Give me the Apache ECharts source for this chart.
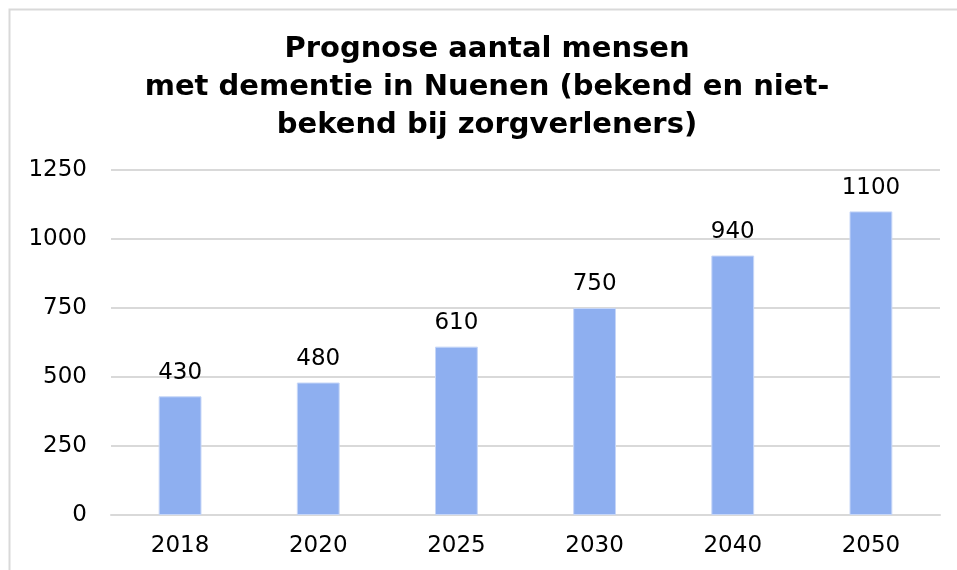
<!DOCTYPE html>
<html>
<head>
<meta charset="utf-8">
<script src="https://cdn.jsdelivr.net/npm/echarts@6/dist/echarts.min.js"></script>
<style>
  html, body { margin: 0; padding: 0; background: #fff; }
  #chart { width: 957px; height: 570px; }
</style>
</head>
<body>
<div id="chart"></div>
<script>
var years = ['2018', '2020', '2025', '2030', '2040', '2050'];
var aantal = [430, 480, 610, 750, 940, 1100];
var yTicks = [0, 250, 500, 750, 1000, 1250];

var echart = echarts.init(document.getElementById('chart'));
var font = 'DejaVu Sans, Verdana, sans-serif';
var option = {
    backgroundColor: '#fff',
    title: {
        text: 'Prognose aantal mensen\nmet dementie in Nuenen (bekend en niet-\nbekend bij zorgverleners)',
        left: 487,
        textAlign: 'center',
        top: 30,
        padding: 0,
        textStyle: { fontFamily: font, fontSize: 29, fontWeight: 'bold', color: '#000', lineHeight: 38 }
    },
    graphic: [{
        type: 'rect',
        shape: { x: 9.5, y: 9.5, width: 980, height: 600 },
        style: { fill: null, stroke: '#d9d9d9', lineWidth: 2 },
        silent: true
    }],
    grid: { left: 111, right: 17, top: 170, bottom: 55 },
    xAxis: {
        type: 'category',
        data: years,
        axisLine: { lineStyle: { color: '#d9d9d9', width: 2 } },
        axisTick: { show: false },
        axisLabel: { fontFamily: font, fontSize: 23, color: '#000', margin: 20 }
    },
    yAxis: {
        type: 'value',
        min: yTicks[0],
        max: yTicks[yTicks.length - 1],
        interval: 250,
        axisLine: { show: false },
        axisTick: { show: false },
        splitLine: { lineStyle: { color: '#d9d9d9', width: 2 } },
        axisLabel: { fontFamily: font, fontSize: 23, color: '#000', margin: 24,
            formatter: function (v) { return String(v); } }
    },
    series: [{
        type: 'bar',
        data: aantal,
        barWidth: '31%',
        itemStyle: { color: '#8eaff0', borderColor: '#c6d6f7', borderWidth: 1 },
        label: { show: true, position: 'top', distance: 12, fontFamily: font, fontSize: 23, color: '#000' }
    }]
};
echart.setOption(option);
</script>
</body>
</html>
